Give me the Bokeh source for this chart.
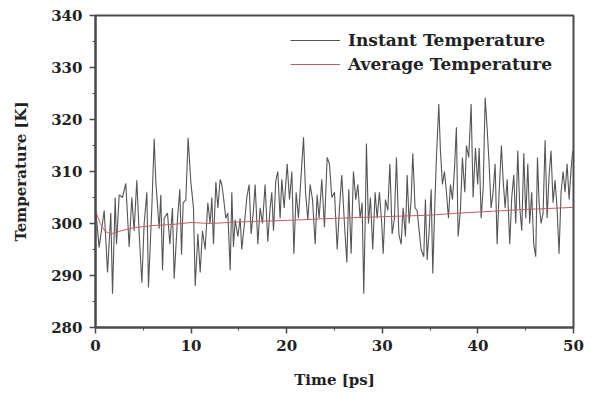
from bokeh.plotting import figure
from bokeh.models import Range1d, Legend, LegendItem, FixedTicker
from bokeh.embed import file_html
from bokeh.resources import INLINE

# ---- data ----
time_ps = [0.00, 0.38, 0.91, 1.26, 1.60, 1.78, 2.06, 2.20, 2.48, 2.82, 3.17, 3.52, 3.80, 4.04, 4.32, 4.57, 4.85, 5.09, 5.37, 5.54,
           5.89, 6.14, 6.31, 6.66, 6.83, 7.01, 7.18, 7.53, 7.78, 8.05, 8.23, 8.58, 8.82, 9.00, 9.17, 9.45, 9.69, 9.97,
           10.25, 10.43, 10.71, 10.95, 11.19, 11.47, 11.75, 11.99, 12.17, 12.34, 12.59, 12.80, 13.04, 13.21, 13.39, 13.63, 13.84,
           14.09, 14.26, 14.43, 14.61, 14.89, 15.13, 15.30, 15.58, 15.83, 16.07, 16.28, 16.52, 16.70, 16.98, 17.22, 17.47, 17.74,
           18.02, 18.27, 18.44, 18.62, 18.86, 19.07, 19.31, 19.49, 19.73,
           20.05, 20.29, 20.54, 20.75, 20.99, 21.23, 21.51, 21.76, 21.97, 22.21, 22.45, 22.70, 22.98, 23.18, 23.39, 23.67, 23.95,
           24.23, 24.47, 24.72, 25.00, 25.28, 25.52, 25.76, 26.04, 26.29, 26.49, 26.74, 26.98, 27.23, 27.44, 27.68, 27.89, 28.06,
           28.24, 28.34, 28.55, 28.76, 29.00, 29.25, 29.46, 29.70, 29.94,
           30.09, 30.33, 30.58, 30.79, 31.03, 31.27, 31.48, 31.73, 31.97, 32.18, 32.42, 32.60, 32.81, 33.02, 33.19, 33.43, 33.64,
           33.89, 34.06, 34.34, 34.51, 34.69, 34.90, 35.11, 35.28, 35.45, 35.66, 35.91, 36.08, 36.29, 36.50, 36.71, 36.92, 37.13,
           37.34, 37.55, 37.75, 37.93, 38.17, 38.38, 38.63, 38.80, 39.04, 39.29, 39.50, 39.74, 39.98,
           40.13, 40.34, 40.55, 40.76, 40.96, 41.17, 41.38, 41.59, 41.80, 42.01, 42.22, 42.46, 42.64, 42.85, 43.06, 43.33, 43.54,
           43.75, 43.96, 44.17, 44.38, 44.59, 44.80, 45.01, 45.22, 45.42, 45.63, 45.84, 46.05, 46.23, 46.40, 46.61, 46.82, 47.03,
           47.24, 47.45, 47.65, 47.86, 48.07, 48.28, 48.49, 48.70, 48.91, 49.12, 49.33, 49.54, 49.75, 49.92]

instant_K = [303, 295.4, 302.5, 290.6, 302, 286.5, 305, 296, 305.5, 305, 307.7, 295.5, 305, 298.6, 308.3, 298, 288.6, 300, 306, 287.7,
             303, 316.3, 308, 299, 305.5, 291, 301, 302, 296, 303, 289.4, 301, 306.6, 294, 304, 304.5, 316.5, 308,
             303, 288, 298, 290.6, 298.6, 295, 304, 300, 305, 296, 308, 303, 308.5, 307.5, 305, 301, 302,
             291, 306, 295.5, 300.7, 297.5, 301, 295, 300, 305, 307.5, 298, 302.5, 307.5, 296, 303, 300, 307.5,
             296.5, 303, 306, 298.6, 308.3, 310, 301, 308.5, 303,
             311.5, 304.6, 310, 294.2, 306, 301, 309.3, 316.6, 306, 300.7, 307.5, 304.6, 296, 305.5, 301, 308.5, 299.3,
             312.7, 311.5, 305, 306, 295, 303, 309.3, 300, 292.5, 306.6, 294.2, 310, 304.6, 307.5, 301, 304, 286.5,
             303, 315.4, 300, 305, 295, 306, 301, 306, 300,
             294.2, 304.6, 302.5, 311.5, 298, 301, 312.7, 298, 296, 303, 297.5, 309.3, 300, 304.6, 313.5, 303, 302.5,
             298, 295, 293.6, 304.6, 293, 298.6, 306.6, 290.4, 301, 312.7, 323, 314, 307.5, 310, 306, 301, 307.5,
             304.6, 310.5, 318.5, 297.5, 302.5, 312.7, 306, 315, 312.7, 323, 305, 314.5, 307.5,
             314.5, 301, 306.6, 324.2, 318.5, 311.5, 303, 306, 311.5, 296, 306, 315, 308.3, 303, 308.5, 296, 305,
             309.3, 300, 314, 303, 298.6, 313.5, 301, 311.5, 300, 306, 296, 293.6, 312.7, 304, 300, 302, 316,
             301, 309.3, 314, 304, 308.3, 303, 294.2, 306, 310, 306, 311.5, 304.6, 310.5, 314]

avg_time_ps = [0, 0.5, 1.0, 1.6, 2.5, 4.0, 6.0, 8.0, 10.0, 12.0, 15.0, 20.0, 25.0, 30.0, 35.0, 38.0, 40.0, 45.0, 50.0]
average_K = [302.5, 300.0, 298.5, 298.0, 298.5, 299.2, 299.6, 299.8, 300.2, 300.0, 300.3, 300.6, 301.0, 301.3, 301.6, 302.0, 302.2, 302.7, 303.1]

x_ticks = [0, 10, 20, 30, 40, 50]
y_ticks = [280, 290, 300, 310, 320, 330, 340]

FONT = "DejaVu Serif"
AXC = "#4a4a4a"

p = figure(width=594, height=394, output_backend="svg", toolbar_location=None,
           x_range=Range1d(0, 50), y_range=Range1d(280, 340),
           min_border_left=95, min_border_right=21, min_border_top=15, min_border_bottom=67)

p.xgrid.visible = False
p.ygrid.visible = False
p.outline_line_color = AXC
p.outline_line_width = 2
p.background_fill_color = "white"
p.border_fill_color = "white"

l_inst = p.line(time_ps, instant_K, line_color="#555555", line_width=1.1)
l_avg = p.line(avg_time_ps, average_K, line_color="#c85a68", line_width=1)

for ax in (p.xaxis[0], p.yaxis[0]):
    ax.axis_line_color = AXC
    ax.axis_line_width = 2
    ax.major_tick_line_color = AXC
    ax.minor_tick_line_color = AXC
    ax.major_tick_line_width = 1.5
    ax.major_tick_in = 0
    ax.major_tick_out = 6
    ax.minor_tick_in = 0
    ax.minor_tick_out = 3
    ax.major_label_text_font = FONT
    ax.major_label_text_font_style = "bold"
    ax.major_label_text_font_size = "15px"
    ax.major_label_text_color = "#222222"
    ax.axis_label_text_font = FONT
    ax.axis_label_text_font_style = "bold"
    ax.axis_label_text_font_size = "15px"
    ax.axis_label_text_color = "#222222"

p.xaxis[0].ticker = FixedTicker(ticks=x_ticks, minor_ticks=[5, 15, 25, 35, 45])
p.yaxis[0].ticker = FixedTicker(ticks=y_ticks, minor_ticks=[285, 295, 305, 315, 325, 335])
p.xaxis[0].axis_label = "Time [ps]"
p.yaxis[0].axis_label = "Temperature [K]"
p.xaxis[0].major_label_standoff = 6
p.xaxis[0].axis_label_standoff = 17
p.yaxis[0].major_label_standoff = 7
p.yaxis[0].axis_label_standoff = 18

legend = Legend(items=[LegendItem(label="Instant Temperature", renderers=[l_inst]),
                       LegendItem(label="Average Temperature", renderers=[l_avg])],
                location=(195, 253), padding=0, margin=0, spacing=4,
                glyph_width=50, glyph_height=20, label_height=20, label_standoff=8,
                label_text_font=FONT, label_text_font_style="bold", label_text_font_size="17px",
                label_text_color="#222222",
                border_line_alpha=0, background_fill_alpha=0)
p.add_layout(legend)

open("out.html", "w").write(file_html(p, INLINE))
